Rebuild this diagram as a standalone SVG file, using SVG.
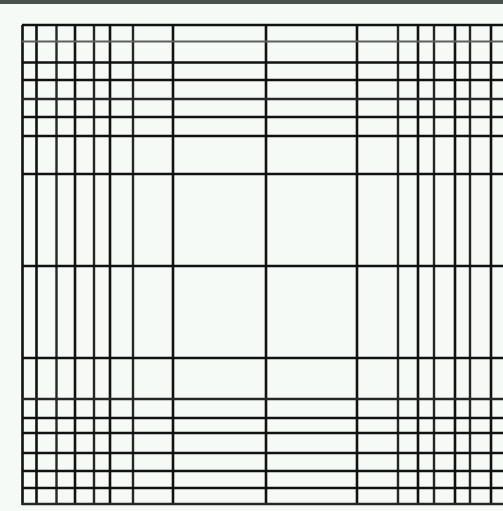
<svg xmlns="http://www.w3.org/2000/svg" width="503" height="511" viewBox="0 0 503 511">
<style>
.d{stroke:#111;stroke-width:2.6;fill:none}
.m{stroke:#262626;stroke-width:2.4;fill:none}
.l{stroke:#5e5e5e;stroke-width:2.2;fill:none}
</style>
<rect x="0" y="0" width="503" height="511" fill="#f6faf7"/>
<rect x="0" y="0" width="503" height="4" fill="#4a524c"/>
<g id="verticals">
<line class="d" x1="22.5" y1="25" x2="22.5" y2="505"/>
<line class="d" x1="36.5" y1="25" x2="36.5" y2="505"/>
<line class="m" x1="56.5" y1="25" x2="56.5" y2="505"/>
<line class="d" x1="75" y1="25" x2="75" y2="505"/>
<line class="m" x1="94" y1="25" x2="94" y2="505"/>
<line class="d" x1="110" y1="25" x2="110" y2="505"/>
<line class="m" x1="133" y1="25" x2="133" y2="505"/>
<line class="d" x1="173" y1="25" x2="173" y2="505"/>
<line class="d" x1="266" y1="25" x2="266" y2="505"/>
<line class="d" x1="357" y1="25" x2="357" y2="505"/>
<line class="m" x1="398" y1="25" x2="398" y2="505"/>
<line class="d" x1="418" y1="25" x2="418" y2="505"/>
<line class="m" x1="434" y1="25" x2="434" y2="505"/>
<line class="d" x1="455" y1="25" x2="455" y2="505"/>
<line class="m" x1="470" y1="25" x2="470" y2="505"/>
<line class="d" x1="491" y1="25" x2="491" y2="505"/>
</g>
<g id="horizontals">
<line class="d" x1="22" y1="25" x2="503" y2="25"/>
<line class="l" x1="22" y1="41.5" x2="503" y2="41.5"/>
<line class="d" x1="22" y1="62.5" x2="503" y2="62.5"/>
<line class="d" x1="22" y1="80" x2="503" y2="80"/>
<line class="m" x1="22" y1="99" x2="503" y2="99"/>
<line class="d" x1="22" y1="117" x2="503" y2="117"/>
<line class="d" x1="22" y1="136" x2="503" y2="136"/>
<line class="d" x1="22" y1="174" x2="503" y2="174"/>
<line class="d" x1="22" y1="266" x2="503" y2="266"/>
<line class="d" x1="22" y1="358" x2="503" y2="358"/>
<line class="m" x1="22" y1="399" x2="503" y2="399"/>
<line class="d" x1="22" y1="418" x2="503" y2="418"/>
<line class="d" x1="22" y1="433" x2="503" y2="433"/>
<line class="d" x1="22" y1="453" x2="503" y2="453"/>
<line class="d" x1="22" y1="471" x2="503" y2="471"/>
<line class="d" x1="22" y1="488" x2="503" y2="488"/>
<line class="m" x1="22" y1="504" x2="503" y2="504"/>
</g>
</svg>
